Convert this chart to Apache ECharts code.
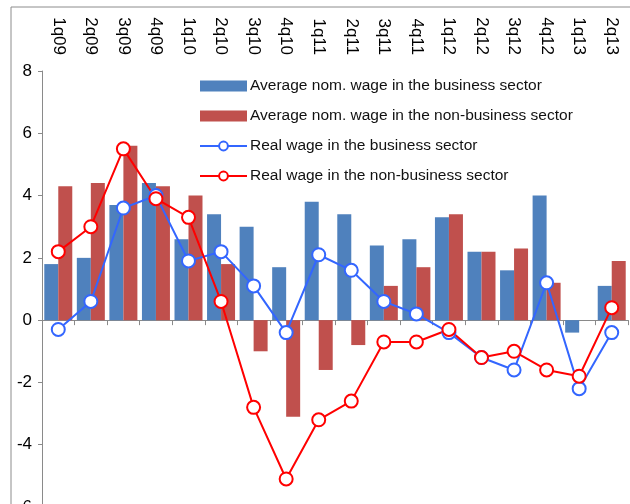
<!DOCTYPE html>
<html>
<head>
<meta charset="utf-8">
<script src="https://cdn.jsdelivr.net/npm/echarts@6/dist/echarts.min.js"></script>
<style>
  html, body { margin: 0; padding: 0; background: #fff; }
  #chart { width: 630px; height: 504px; }
</style>
</head>
<body>
<div id="chart"></div>
<script>
const categories = ['1q09','2q09','3q09','4q09','1q10','2q10','3q10','4q10','1q11','2q11','3q11','4q11','1q12','2q12','3q12','4q12','1q13','2q13'];
const nomBusiness = [1.8,2.0,3.7,4.4,2.6,3.4,3.0,1.7,3.8,3.4,2.4,2.6,3.3,2.2,1.6,4.0,-0.4,1.1];
const nomNonBusiness = [4.3,4.4,5.6,4.3,4.0,1.8,-1.0,-3.1,-1.6,-0.8,1.1,1.7,3.4,2.2,2.3,1.2,0,1.9];
const realBusiness = [-0.3,0.6,3.6,4.0,1.9,2.2,1.1,-0.4,2.1,1.6,0.6,0.2,-0.4,-1.2,-1.6,1.2,-2.2,-0.4];
const realNonBusiness = [2.2,3.0,5.5,3.9,3.3,0.6,-2.8,-5.1,-3.2,-2.6,-0.7,-0.7,-0.3,-1.2,-1.0,-1.6,-1.8,0.4];

const names = [
  'Average nom. wage in the business sector',
  'Average nom. wage in the non-business sector',
  'Real wage in the business sector',
  'Real wage in the non-business sector'
];

const font = 'Liberation Sans, Arial, sans-serif';
const chart = echarts.init(document.getElementById('chart'), null, {renderer: 'canvas'});

function lineSeries(name, data, color) {
  return {
    name, type: 'line', data, xAxisIndex: 0,
    symbol: 'circle', symbolSize: 13,
    lineStyle: {color, width: 2},
    itemStyle: {color: '#fff', borderColor: color, borderWidth: 2},
    z: 3
  };
}

chart.setOption({
  animation: false,
  textStyle: {fontFamily: font},
  graphic: [{
    type: 'rect', silent: true, z: -1,
    shape: {x: 11, y: 7, width: 700, height: 600},
    style: {fill: 'none', stroke: '#8c8c8c', lineWidth: 1}
  }],
  grid: {left: 42, top: 71, right: 2, height: 436, outerBoundsMode: 'none'},
  legend: {
    orient: 'vertical', left: 194, top: 73,
    itemWidth: 47, itemHeight: 11, itemGap: 14,
    textStyle: {fontSize: 15.5, color: '#111', fontFamily: font, padding: [0, 0, 0, -2]},
    data: [
      {name: names[0], icon: 'rect'},
      {name: names[1], icon: 'rect'},
      {name: names[2]},
      {name: names[3]}
    ]
  },
  xAxis: [{
    type: 'category', data: categories, position: 'bottom',
    axisLine: {onZero: true, lineStyle: {color: '#8a8a8a'}},
    axisTick: {show: true, interval: 0, length: 5, lineStyle: {color: '#8a8a8a'}},
    axisLabel: {show: false}
  }, {
    type: 'category', data: categories, position: 'top',
    axisLine: {show: false}, axisTick: {show: false},
    axisLabel: {interval: 0, rotate: 90, margin: 16, fontSize: 17, color: '#000', fontFamily: font}
  }],
  yAxis: {
    type: 'value', min: -6, max: 8, interval: 2,
    splitLine: {show: false},
    axisLine: {show: true, lineStyle: {color: '#8a8a8a'}},
    axisTick: {show: true, length: 4, lineStyle: {color: '#8a8a8a'}},
    axisLabel: {margin: 10, fontSize: 17, color: '#000', fontFamily: font}
  },
  series: [
    {name: names[0], type: 'bar', data: nomBusiness, barGap: 0, barCategoryGap: '14%',
     itemStyle: {color: '#4F81BD'}},
    {name: names[1], type: 'bar', data: nomNonBusiness, barGap: 0, barCategoryGap: '14%',
     itemStyle: {color: '#C0504D'}},
    lineSeries(names[2], realBusiness, '#3366FF'),
    lineSeries(names[3], realNonBusiness, '#FF0000')
  ]
});
</script>
</body>
</html>
